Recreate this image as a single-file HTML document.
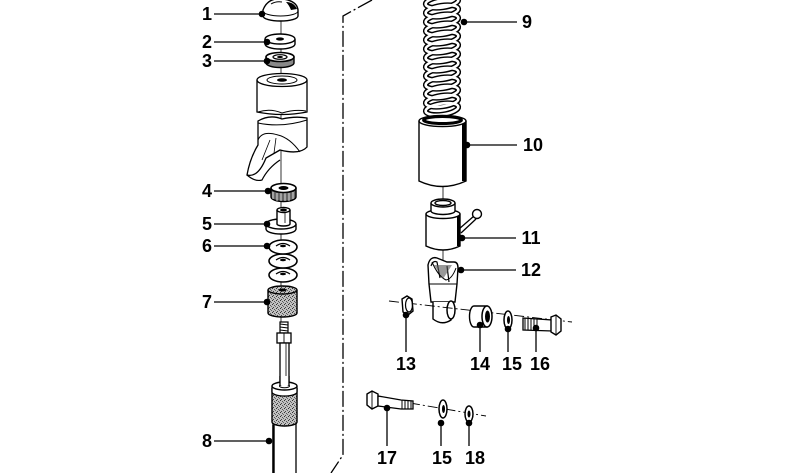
<!DOCTYPE html>
<html><head><meta charset="utf-8"><style>
html,body{margin:0;padding:0;background:#fff;}
svg{display:block;}
text{font-family:"Liberation Sans",Arial,sans-serif;font-weight:bold;font-size:18px;fill:#000;text-anchor:middle;}
</style></head><body>
<svg width="799" height="473" viewBox="0 0 799 473" xmlns="http://www.w3.org/2000/svg">
<defs>
<pattern id="st" width="4" height="4" patternUnits="userSpaceOnUse">
<rect width="4" height="4" fill="#c0c0c0"/>
<rect x="0" y="0" width="1" height="1" fill="#333"/>
<rect x="2" y="1" width="1" height="1" fill="#555"/>
<rect x="1" y="3" width="1" height="1" fill="#444"/>
<rect x="3" y="2" width="1" height="1" fill="#666"/>
</pattern>
</defs>
<rect width="799" height="473" fill="#fff"/>

<!-- dashed boundary -->
<path d="M372,0 L343,16 L343,455 L331,473" fill="none" stroke="#000" stroke-width="1.3" stroke-dasharray="16 3 2 3"/>

<!-- left axis -->
<line x1="281" y1="18" x2="281" y2="330" stroke="#000" stroke-width="0.8"/>

<!-- Part 1 cap -->
<path d="M263,16 L263,10 Q268,-3 283,-1 Q297,1 298,10 L298,16 A17.5,5 0 0 1 263,16 Z" fill="#fff" stroke="#000" stroke-width="1.4"/>
<path d="M263,11 A17.5,5 0 0 0 298,11" fill="none" stroke="#000" stroke-width="1"/>
<path d="M286,2 Q294,2 297,9 L291,10 Q289,5 286,2 Z" fill="#000"/>
<path d="M271,4 Q276,1 282,2" fill="none" stroke="#000" stroke-width="1"/>

<!-- Part 2 washer -->
<path d="M265,39 L265,44 A15,5 0 0 0 295,44 L295,39" fill="#fff" stroke="#000" stroke-width="1.4"/>
<ellipse cx="280" cy="39" rx="15" ry="5" fill="#fff" stroke="#000" stroke-width="1.4"/>
<ellipse cx="280" cy="39" rx="4" ry="1.6" fill="#000"/>

<!-- Part 3 -->
<path d="M266,57 L266,63 A14,4.5 0 0 0 294,63 L294,57" fill="#888" stroke="#000" stroke-width="1.4"/>
<ellipse cx="280" cy="57" rx="14" ry="4.5" fill="#fff" stroke="#000" stroke-width="1.6"/>
<ellipse cx="280" cy="57" rx="7" ry="2.3" fill="#fff" stroke="#000" stroke-width="1.2"/>
<ellipse cx="280" cy="57" rx="3" ry="1.1" fill="#000"/>

<!-- Boot upper -->
<path d="M257,80 L257,112 Q282,117 307,112 L307,80" fill="#fff" stroke="#000" stroke-width="1.3"/>
<ellipse cx="282" cy="80" rx="25" ry="6.5" fill="#fff" stroke="#000" stroke-width="1.3"/>
<ellipse cx="282" cy="80" rx="15" ry="4" fill="#fff" stroke="#000" stroke-width="1"/>
<ellipse cx="282" cy="80" rx="5" ry="1.8" fill="#000"/>
<path d="M258,112 Q270,108 282,113 Q295,109 306,111" fill="none" stroke="#000" stroke-width="1"/>
<!-- Boot lower -->
<path d="M258,121 Q270,114 282,119 Q295,116 307,118 L307,147 Q300,155 280,150 L266,158 Q258,178 247,175 Q250,158 258,145 Z" fill="#fff" stroke="#000" stroke-width="1.3"/>
<path d="M258,123 Q282,128 307,120" fill="none" stroke="#000" stroke-width="1"/>
<path d="M258,140 Q262,130 278,135 Q290,138 300,152" fill="none" stroke="#000" stroke-width="1"/>
<path d="M262,160 L270,140 M274,153 L276,138" fill="none" stroke="#000" stroke-width="0.8"/>
<path d="M247,175 Q255,182 262,180 Q268,168 280,160" fill="none" stroke="#000" stroke-width="1.2"/>

<!-- Part 4 -->
<path d="M271,188 L271,197 A12.5,4.5 0 0 0 296,197 L296,188" fill="#666" stroke="#000" stroke-width="1.4"/>
<path d="M273,192 L273,199 M277,193 L277,201 M281,193 L281,201 M285,193 L285,201 M289,193 L289,201 M293,192 L293,199" stroke="#fff" stroke-width="0.8"/>
<ellipse cx="283.5" cy="188" rx="12.5" ry="4.5" fill="#fff" stroke="#000" stroke-width="1.6"/>
<ellipse cx="283.5" cy="188" rx="5" ry="2" fill="#000"/>

<!-- Part 5 -->
<path d="M266,224 L266,229 A15,5 0 0 0 296,229 L296,224" fill="#fff" stroke="#000" stroke-width="1.4"/>
<ellipse cx="281" cy="224" rx="15" ry="5" fill="#fff" stroke="#000" stroke-width="1.4"/>
<path d="M277,210 L277,224 A6.5,2 0 0 0 290,224 L290,210" fill="#fff" stroke="#000" stroke-width="1.4"/>
<ellipse cx="283.5" cy="210" rx="6.5" ry="2.5" fill="#fff" stroke="#000" stroke-width="1.4"/>
<ellipse cx="283.5" cy="210" rx="3.5" ry="1.4" fill="#000"/>
<line x1="285" y1="212" x2="285" y2="223" stroke="#000" stroke-width="0.8"/>

<!-- Part 6 washers -->
<g fill="#fff" stroke="#000" stroke-width="1.6">
<ellipse cx="283" cy="275" rx="14" ry="7"/>
<ellipse cx="283" cy="261" rx="14" ry="7"/>
<ellipse cx="283" cy="247" rx="14" ry="7"/>
</g>
<g fill="none" stroke="#000" stroke-width="1.2">
<path d="M276,246 Q283,241 290,246"/>
<path d="M276,260 Q283,255 290,260"/>
<path d="M276,274 Q283,269 290,274"/>
</g>
<g fill="#000"><ellipse cx="283" cy="246" rx="3" ry="1.2"/><ellipse cx="283" cy="260" rx="3" ry="1.2"/><ellipse cx="283" cy="274" rx="3" ry="1.2"/></g>

<!-- Part 7 -->
<path d="M268,290 L268,313 A14.5,4 0 0 0 297,313 L297,290" fill="url(#st)" stroke="#000" stroke-width="1.4"/>
<ellipse cx="282.5" cy="290" rx="14.5" ry="4" fill="url(#st)" stroke="#000" stroke-width="1.4"/>
<ellipse cx="282.5" cy="290" rx="4" ry="1.5" fill="#000"/>

<!-- rod + stud -->
<rect x="280" y="322" width="8" height="11" fill="#fff" stroke="#000" stroke-width="1.2"/>
<path d="M280,324 L288,325 M280,327 L288,328 M280,330 L288,331" stroke="#000" stroke-width="0.9"/>
<rect x="277" y="333" width="14" height="10" fill="#fff" stroke="#000" stroke-width="1.3"/>
<line x1="284" y1="333" x2="284" y2="343" stroke="#000" stroke-width="0.9"/>
<rect x="280" y="343" width="9" height="41" fill="#fff" stroke="#000" stroke-width="1.3"/>
<line x1="286" y1="343" x2="286" y2="383" stroke="#000" stroke-width="0.8"/>

<!-- lower tube (8) -->
<rect x="273" y="420" width="23" height="55" fill="#fff" stroke="#000" stroke-width="1.3"/>
<line x1="273.5" y1="425" x2="273.5" y2="473" stroke="#000" stroke-width="2.4"/>
<path d="M272,388 L272,422 A12.5,4 0 0 0 297,422 L297,388" fill="url(#st)" stroke="#000" stroke-width="1.4"/>
<path d="M272,386 L272,392 A12.5,4 0 0 0 297,392 L297,386" fill="#fff" stroke="#000" stroke-width="1.3"/>
<ellipse cx="284.5" cy="386" rx="12.5" ry="4" fill="#fff" stroke="#000" stroke-width="1.4"/>
<ellipse cx="284.5" cy="386" rx="5" ry="1.8" fill="#fff" stroke="#000" stroke-width="1"/>
<rect x="280" y="376" width="9" height="9" fill="#fff" stroke="none"/>
<path d="M280,376 L280,386 M289,376 L289,386" stroke="#000" stroke-width="1.3"/>

<!-- RIGHT SIDE -->
<!-- spring -->
<g fill="none">
<g stroke="#000" stroke-width="5.5">
<ellipse cx="442" cy="2" rx="16.5" ry="5.5" transform="rotate(-8 442 2)"/>
<ellipse cx="442" cy="11" rx="16.5" ry="5.5" transform="rotate(-8 442 11)"/>
<ellipse cx="442" cy="20" rx="16.5" ry="5.5" transform="rotate(-8 442 20)"/>
<ellipse cx="442" cy="29" rx="16.5" ry="5.5" transform="rotate(-8 442 29)"/>
<ellipse cx="442" cy="38" rx="16.5" ry="5.5" transform="rotate(-8 442 38)"/>
<ellipse cx="442" cy="47" rx="16.5" ry="5.5" transform="rotate(-8 442 47)"/>
<ellipse cx="442" cy="56" rx="16.5" ry="5.5" transform="rotate(-8 442 56)"/>
<ellipse cx="442" cy="65" rx="16.5" ry="5.5" transform="rotate(-8 442 65)"/>
<ellipse cx="442" cy="74" rx="16.5" ry="5.5" transform="rotate(-8 442 74)"/>
<ellipse cx="442" cy="83" rx="16.5" ry="5.5" transform="rotate(-8 442 83)"/>
<ellipse cx="442" cy="92" rx="16.5" ry="5.5" transform="rotate(-8 442 92)"/>
<ellipse cx="442" cy="101" rx="16.5" ry="5.5" transform="rotate(-8 442 101)"/>
<ellipse cx="442" cy="109" rx="16.5" ry="5.5" transform="rotate(-8 442 109)"/>
</g>
<g stroke="#fff" stroke-width="2.6">
<ellipse cx="442" cy="2" rx="16.5" ry="5.5" transform="rotate(-8 442 2)"/>
<ellipse cx="442" cy="11" rx="16.5" ry="5.5" transform="rotate(-8 442 11)"/>
<ellipse cx="442" cy="20" rx="16.5" ry="5.5" transform="rotate(-8 442 20)"/>
<ellipse cx="442" cy="29" rx="16.5" ry="5.5" transform="rotate(-8 442 29)"/>
<ellipse cx="442" cy="38" rx="16.5" ry="5.5" transform="rotate(-8 442 38)"/>
<ellipse cx="442" cy="47" rx="16.5" ry="5.5" transform="rotate(-8 442 47)"/>
<ellipse cx="442" cy="56" rx="16.5" ry="5.5" transform="rotate(-8 442 56)"/>
<ellipse cx="442" cy="65" rx="16.5" ry="5.5" transform="rotate(-8 442 65)"/>
<ellipse cx="442" cy="74" rx="16.5" ry="5.5" transform="rotate(-8 442 74)"/>
<ellipse cx="442" cy="83" rx="16.5" ry="5.5" transform="rotate(-8 442 83)"/>
<ellipse cx="442" cy="92" rx="16.5" ry="5.5" transform="rotate(-8 442 92)"/>
<ellipse cx="442" cy="101" rx="16.5" ry="5.5" transform="rotate(-8 442 101)"/>
<ellipse cx="442" cy="109" rx="16.5" ry="5.5" transform="rotate(-8 442 109)"/>
</g>
</g>

<!-- tube 10 -->
<path d="M419,121 L419,181 Q442,192 466,181 L466,121" fill="#fff" stroke="#000" stroke-width="1.4"/>
<rect x="462" y="121" width="4.5" height="60" fill="#000"/>
<ellipse cx="442.5" cy="121" rx="23.5" ry="5.5" fill="#fff" stroke="#000" stroke-width="1.4"/>
<ellipse cx="442.5" cy="120" rx="19" ry="3.5" fill="none" stroke="#000" stroke-width="3"/>

<!-- axis right -->
<line x1="443" y1="187" x2="443" y2="300" stroke="#000" stroke-width="0.8"/>

<!-- part 11 -->
<path d="M426,214 L426,246 Q443,254 460,246 L460,214" fill="#fff" stroke="#000" stroke-width="1.4"/>
<rect x="457" y="214" width="3.5" height="32" fill="#000"/>
<ellipse cx="443" cy="214" rx="17" ry="4.5" fill="#fff" stroke="#000" stroke-width="1.4"/>
<path d="M431,203 L431,211 A12,3.5 0 0 0 455,211 L455,203" fill="#fff" stroke="#000" stroke-width="1.4"/>
<ellipse cx="443" cy="203" rx="12" ry="4" fill="#fff" stroke="#000" stroke-width="1.4"/>
<ellipse cx="443" cy="203" rx="8" ry="2.5" fill="#fff" stroke="#000" stroke-width="1.4"/>
<path d="M459,229 L474,216 M461,233 L476,219" stroke="#000" stroke-width="1.3"/>
<circle cx="477" cy="214" r="4.5" fill="#fff" stroke="#000" stroke-width="1.4"/>

<!-- part 12 -->
<path d="M428,265 Q430,256 437,258 L447,262 L454,262 Q458,262 458,268 L457,284 L455,302 L431,302 L429,284 Z" fill="#fff" stroke="#000" stroke-width="1.4"/>
<path d="M431,266 Q433,260 437,262 L440,278 M447,266 L449,282" fill="none" stroke="#000" stroke-width="1.2"/>
<path d="M432,262 Q438,276 446,280 Q452,279 456,268" fill="none" stroke="#000" stroke-width="1"/>
<path d="M434,265 L443,279 L452,265" fill="#555" stroke="none" opacity="0.6"/>
<line x1="429" y1="284" x2="457" y2="284" stroke="#000" stroke-width="1"/>
<path d="M433,302 L433,319 Q442,326 451,320 L453,302" fill="#fff" stroke="#000" stroke-width="1.4"/>
<ellipse cx="451" cy="310" rx="4" ry="9" fill="#fff" stroke="#000" stroke-width="1.5"/>

<!-- axis 13-16 -->
<line x1="389" y1="301" x2="572" y2="322" stroke="#000" stroke-width="0.9" stroke-dasharray="10 3 2 3"/>
<!-- nut 13 -->
<path d="M402,299 L407,296 L412,299 L413,311 L408,315 L403,312 Z" fill="#fff" stroke="#000" stroke-width="1.4"/>
<ellipse cx="409" cy="305" rx="3.5" ry="7" fill="none" stroke="#000" stroke-width="1.2"/>
<!-- sleeve 14 -->
<path d="M474,306 L487,306 L487,327 L474,327 A4.5,10.5 0 0 1 474,306 Z" fill="#fff" stroke="#000" stroke-width="1.4"/>
<ellipse cx="487" cy="316.5" rx="5" ry="10.5" fill="#fff" stroke="#000" stroke-width="1.5"/>
<ellipse cx="487.5" cy="316.5" rx="2.5" ry="6" fill="#000"/>
<!-- washer 15 -->
<ellipse cx="508" cy="320" rx="4" ry="9" fill="#fff" stroke="#000" stroke-width="1.5"/>
<ellipse cx="508.5" cy="320" rx="1.5" ry="4" fill="#000"/>
<!-- bolt 16 -->
<path d="M523,318 L552,320 L552,331 L523,330 Z" fill="#fff" stroke="#000" stroke-width="1.3"/>
<path d="M525,318 L525,330 M528,318 L528,330 M531,318 L531,330 M534,319 L534,330 M537,319 L537,330" stroke="#000" stroke-width="1"/>
<path d="M551,317 L556,315 L561,319 L561,331 L556,335 L551,332 Z" fill="#fff" stroke="#000" stroke-width="1.4"/>
<line x1="556" y1="315" x2="556" y2="335" stroke="#000" stroke-width="0.9"/>

<!-- axis 17-18 -->
<line x1="410" y1="403" x2="486" y2="416" stroke="#000" stroke-width="0.9" stroke-dasharray="10 3 2 3"/>
<!-- bolt 17 -->
<path d="M367,394 L372,391 L378,394 L378,406 L372,409 L367,405 Z" fill="#fff" stroke="#000" stroke-width="1.4"/>
<line x1="372" y1="391" x2="372" y2="409" stroke="#000" stroke-width="0.9"/>
<path d="M378,396 L401,400 L413,401 L413,409 L401,409 L378,406 Z" fill="#fff" stroke="#000" stroke-width="1.3"/>
<path d="M402,400 L402,409 M405,400 L405,409 M408,401 L408,409 M411,401 L411,409" stroke="#000" stroke-width="1"/>
<!-- washer 15b -->
<ellipse cx="443" cy="409" rx="4" ry="9" fill="#fff" stroke="#000" stroke-width="1.5"/>
<ellipse cx="443.5" cy="409" rx="1.5" ry="4" fill="#000"/>
<!-- washer 18 -->
<ellipse cx="469" cy="414" rx="4" ry="8" fill="#fff" stroke="#000" stroke-width="1.5"/>
<ellipse cx="469" cy="414" rx="1.5" ry="3.5" fill="#000"/>

<!-- leaders -->
<g stroke="#000" stroke-width="1.3">
<line x1="214" y1="14" x2="262" y2="14"/>
<line x1="214" y1="42" x2="267" y2="42"/>
<line x1="214" y1="61" x2="267" y2="61"/>
<line x1="214" y1="191" x2="268" y2="191"/>
<line x1="214" y1="224" x2="267" y2="224"/>
<line x1="214" y1="246" x2="267" y2="246"/>
<line x1="214" y1="302" x2="267" y2="302"/>
<line x1="214" y1="441" x2="269" y2="441"/>
<line x1="464" y1="22" x2="517" y2="22"/>
<line x1="467" y1="145" x2="517" y2="145"/>
<line x1="462" y1="238" x2="516" y2="238"/>
<line x1="461" y1="270" x2="516" y2="270"/>
<line x1="406" y1="315" x2="406" y2="352"/>
<line x1="480" y1="325" x2="480" y2="352"/>
<line x1="508" y1="329" x2="508" y2="352"/>
<line x1="536" y1="328" x2="536" y2="352"/>
<line x1="387" y1="408" x2="387" y2="446"/>
<line x1="441" y1="423" x2="441" y2="446"/>
<line x1="469" y1="423" x2="469" y2="446"/>
</g>
<g fill="#000">
<circle cx="262" cy="14" r="3.3"/>
<circle cx="267" cy="42" r="3.3"/>
<circle cx="267" cy="61" r="3.3"/>
<circle cx="268" cy="191" r="3.3"/>
<circle cx="267" cy="224" r="3.3"/>
<circle cx="267" cy="246" r="3.3"/>
<circle cx="267" cy="302" r="3.3"/>
<circle cx="269" cy="441" r="3.3"/>
<circle cx="464" cy="22" r="3.3"/>
<circle cx="467" cy="145" r="3.3"/>
<circle cx="462" cy="238" r="3.3"/>
<circle cx="461" cy="270" r="3.3"/>
<circle cx="406" cy="315" r="3.3"/>
<circle cx="480" cy="325" r="3.3"/>
<circle cx="508" cy="329" r="3.3"/>
<circle cx="536" cy="328" r="3.3"/>
<circle cx="387" cy="408" r="3.3"/>
<circle cx="441" cy="423" r="3.3"/>
<circle cx="469" cy="423" r="3.3"/>
</g>

<!-- labels -->
<text x="207" y="20">1</text>
<text x="207" y="48">2</text>
<text x="207" y="67">3</text>
<text x="207" y="197">4</text>
<text x="207" y="230">5</text>
<text x="207" y="252">6</text>
<text x="207" y="308">7</text>
<text x="207" y="447">8</text>
<text x="527" y="28">9</text>
<text x="533" y="151">10</text>
<text x="531" y="244">11</text>
<text x="531" y="276">12</text>
<text x="406" y="370">13</text>
<text x="480" y="370">14</text>
<text x="512" y="370">15</text>
<text x="540" y="370">16</text>
<text x="387" y="464">17</text>
<text x="442" y="464">15</text>
<text x="475" y="464">18</text>
</svg>
</body></html>
